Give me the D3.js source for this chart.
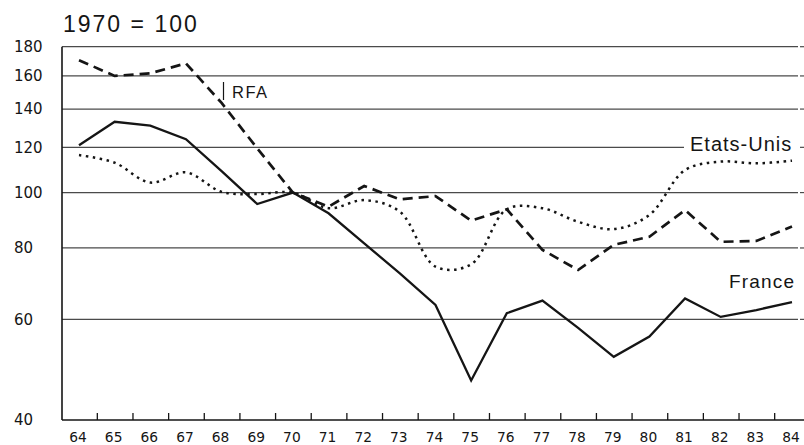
<!DOCTYPE html>
<html>
<head>
<meta charset="utf-8">
<script src="https://cdn.jsdelivr.net/npm/d3@7"></script>
<style>
  body { margin: 0; background: #fff; }
  svg { display: block; }
</style>
</head>
<body>
<div id="chart"></div>
<script>
// years 1964..1984, index 1970 = 100 (log scale)
const years = d3.range(64, 85);
const france = [121, 133, 131, 124, 109, 95.5, 100, 92, 81.5, 72.2, 63.6, 46.9, 61.5, 64.7, 58, 51.6, 56, 65.3, 60.6, 62.3, 64.3];
const rfa = [170.5, 160, 161.7, 168.3, 143.5, 119.5, 100, 94.5, 102.7, 97.3, 98.6, 89.3, 93.5, 79.4, 73.2, 81, 83.7, 93.2, 82, 82.3, 87.2];
const usa = [116.3, 112.8, 104.1, 108.5, 100.3, 99.4, 100, 93.9, 97, 92.6, 74.2, 74.9, 93.5, 93.9, 88.9, 86.3, 91.4, 109.5, 113.3, 112.5, 113.7];
const yTicks = [40, 60, 80, 100, 120, 140, 160, 180];

const width = 804, height = 445;
const plotLeft = 62, plotRight = 798, plotTop = 46.7, plotBottom = 420;
const ink = "#151515";

const svg = d3.select("#chart").append("svg")
  .attr("width", width)
  .attr("height", height);

const x = d3.scaleLinear().domain([64, 84]).range([79, 792]);
const y = d3.scaleLog().domain([40, 180]).range([plotBottom, plotTop]);

// gridlines (the 120 line stops before the Etats-Unis label)
svg.append("g").selectAll("line")
  .data(yTicks.filter(d => d > 40))
  .join("line")
  .attr("x1", plotLeft)
  .attr("x2", d => d === 120 ? 684 : plotRight)
  .attr("y1", d => y(d))
  .attr("y2", d => y(d))
  .attr("stroke", "#4a4a4a")
  .attr("stroke-width", 1.2);

// little marks at the right end
svg.append("g").selectAll("line")
  .data(yTicks.filter(d => d > 40))
  .join("line")
  .attr("x1", 800).attr("x2", 804)
  .attr("y1", d => y(d)).attr("y2", d => y(d))
  .attr("stroke", "#4a4a4a")
  .attr("stroke-width", 1.2);

// y labels, left aligned
svg.append("g").selectAll("text")
  .data(yTicks)
  .join("text")
  .attr("x", 14)
  .attr("y", d => y(d))
  .attr("dy", "0.36em")
  .attr("font-family", "DejaVu Sans")
  .attr("font-size", 15)
  .attr("fill", ink)
  .text(d => d);

// frame: left and bottom axes
svg.append("line")
  .attr("x1", plotLeft).attr("x2", plotLeft)
  .attr("y1", plotTop).attr("y2", plotBottom)
  .attr("stroke", ink).attr("stroke-width", 1.6);

const xAxis = d3.axisBottom(x)
  .tickValues(d3.range(64.5, 84, 1))
  .tickSize(-7)
  .tickFormat("");

const gx = svg.append("g")
  .attr("transform", `translate(0,${plotBottom})`)
  .call(xAxis);
gx.select(".domain").remove();
gx.selectAll(".tick line").attr("stroke", ink).attr("stroke-width", 1.3);

svg.append("line")
  .attr("x1", plotLeft).attr("x2", width)
  .attr("y1", plotBottom).attr("y2", plotBottom)
  .attr("stroke", ink).attr("stroke-width", 1.6);

// year labels
svg.append("g").selectAll("text")
  .data(years)
  .join("text")
  .attr("x", d => x(d) - 1)
  .attr("y", 441.5)
  .attr("text-anchor", "middle")
  .attr("font-family", "DejaVu Sans")
  .attr("font-size", 13.8)
  .attr("fill", ink)
  .text(d => d);

// series
const lineLin = d3.line()
  .x((d, i) => x(years[i]))
  .y(d => y(d));

const lineSmooth = d3.line()
  .x((d, i) => x(years[i]))
  .y(d => y(d))
  .curve(d3.curveCatmullRom.alpha(0.5));

svg.append("path")
  .datum(usa)
  .attr("d", lineSmooth)
  .attr("fill", "none")
  .attr("stroke", ink)
  .attr("stroke-width", 2.5)
  .attr("stroke-dasharray", "2.5,4.5");

svg.append("path")
  .datum(rfa)
  .attr("d", lineLin)
  .attr("fill", "none")
  .attr("stroke", ink)
  .attr("stroke-width", 2.7)
  .attr("stroke-dasharray", "10,6");

svg.append("path")
  .datum(france)
  .attr("d", lineLin)
  .attr("fill", "none")
  .attr("stroke", ink)
  .attr("stroke-width", 2.3)
  .attr("stroke-linejoin", "miter");

// title and labels
svg.append("text")
  .attr("x", 63)
  .attr("y", 32.3)
  .attr("font-family", "Liberation Sans")
  .attr("font-size", 23)
  .attr("letter-spacing", 2)
  .attr("fill", ink)
  .text("1970 = 100");

svg.append("line")
  .attr("x1", 223.5).attr("x2", 223.5)
  .attr("y1", 82).attr("y2", 100)
  .attr("stroke", ink).attr("stroke-width", 1.2);

svg.append("text")
  .attr("x", 232)
  .attr("y", 98.3)
  .attr("font-family", "Liberation Sans")
  .attr("font-size", 16.5)
  .attr("letter-spacing", 1.5)
  .attr("fill", ink)
  .text("RFA");

svg.append("text")
  .attr("x", 690)
  .attr("y", 151)
  .attr("font-family", "Liberation Sans")
  .attr("font-size", 20)
  .attr("letter-spacing", 1)
  .attr("fill", ink)
  .text("Etats-Unis");

svg.append("text")
  .attr("x", 729)
  .attr("y", 288.3)
  .attr("font-family", "Liberation Sans")
  .attr("font-size", 19)
  .attr("letter-spacing", 1.2)
  .attr("fill", ink)
  .text("France");
</script>
</body>
</html>
